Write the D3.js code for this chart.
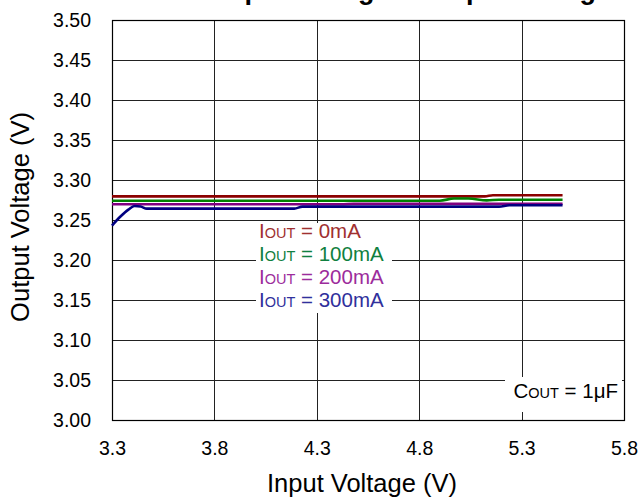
<!DOCTYPE html>
<html>
<head>
<meta charset="utf-8">
<script src="https://cdn.jsdelivr.net/npm/d3@7"></script>
<style>
  html, body { margin: 0; padding: 0; background: #fff; }
  svg { display: block; font-family: "Liberation Sans", Arial, sans-serif; }
  .tick-label { font-size: 19.5px; fill: #000; }
  .axis-title { font-size: 25.5px; fill: #000; }
  .grid line { stroke: #222; stroke-width: 1; shape-rendering: crispEdges; }
</style>
</head>
<body>
<svg id="chart" width="640" height="498"></svg>
<script>
(function () {
    "use strict";

    // Tick values
    const X_TICKS = [3.3, 3.8, 4.3, 4.8, 5.3, 5.8];
    const Y_TICKS = [3.00, 3.05, 3.10, 3.15, 3.20, 3.25, 3.30, 3.35, 3.40, 3.45, 3.50];

    // Series: input voltage (V) vs output voltage (V), one per load current
    const SERIES_NAMES = ["0mA", "100mA", "200mA", "300mA"];

    const vin0 = [3.3, 5.12, 5.16, 5.5];
    const vout0 = [3.2795, 3.2795, 3.281, 3.281];

    const vin100 = [3.3, 4.9, 4.97, 5.04, 5.13, 5.19, 5.5];
    const vout100 = [3.2741, 3.2741, 3.2768, 3.2768, 3.2745, 3.2754, 3.2754];

    const vin200 = [3.3, 4.42, 4.48, 5.5];
    const vout200 = [3.2696, 3.2696, 3.2704, 3.2704];

    const vin300 = [3.3, 3.34, 3.38, 3.41, 3.44, 3.47, 4.19, 4.23, 5.19, 5.24, 5.5];
    const vout300 = [3.243, 3.254, 3.263, 3.2675, 3.2668, 3.2642, 3.2642, 3.2667, 3.2667, 3.2684, 3.2684];

    const LINE_COLORS = ["#8b0000", "#008000", "#800080", "#000080"];
    const TEXT_COLORS = ["#a03030", "#108040", "#9c2c9c", "#30309c"];

    const series = [
        { name: SERIES_NAMES[0], vin: vin0, vout: vout0 },
        { name: SERIES_NAMES[1], vin: vin100, vout: vout100 },
        { name: SERIES_NAMES[2], vin: vin200, vout: vout200 },
        { name: SERIES_NAMES[3], vin: vin300, vout: vout300 }
    ];

    const W = 640;
    const margin = { top: 20, right: 16, bottom: 78, left: 112 };
    const innerW = W - margin.left - margin.right;   // 512
    const innerH = 498 - margin.top - margin.bottom; // 400

    const svg = d3.select("#chart");

    // Title, clipped at the top edge as in the source
    svg.append("text")
        .attr("x", 198)
        .attr("y", -1.5)
        .style("font-size", "27px")
        .style("font-weight", "bold")
        .text("Output Voltage vs. Input Voltage");

    const g = svg.append("g")
        .attr("transform", `translate(${margin.left},${margin.top})`);

    const x = d3.scaleLinear().domain([3.3, 5.8]).range([0, innerW]);
    const y = d3.scaleLinear().domain([3.0, 3.5]).range([innerH, 0]);

    // Grid
    g.append("g")
        .attr("class", "grid")
        .selectAll("line")
        .data(X_TICKS)
        .enter()
        .append("line")
        .attr("x1", (d) => Math.round(x(d)) + 0.5).attr("x2", (d) => Math.round(x(d)) + 0.5)
        .attr("y1", 0).attr("y2", innerH);

    g.append("g")
        .attr("class", "grid")
        .selectAll("line")
        .data(Y_TICKS)
        .enter()
        .append("line")
        .attr("x1", 0).attr("x2", innerW)
        .attr("y1", (d) => Math.round(y(d)) + 0.5).attr("y2", (d) => Math.round(y(d)) + 0.5);

    // Plot frame
    g.append("rect")
        .attr("x", 0.5).attr("y", 0.5)
        .attr("width", innerW).attr("height", innerH)
        .attr("fill", "none")
        .attr("stroke", "#000")
        .attr("stroke-width", 1.2);

    // Lines
    const line = d3.line()
        .x((d) => x(d[0]))
        .y((d) => y(d[1]))
        .curve(d3.curveMonotoneX);

    g.selectAll(".series")
        .data(series)
        .enter()
        .append("path")
        .attr("class", "series")
        .attr("fill", "none")
        .attr("stroke", (d, i) => LINE_COLORS[i])
        .attr("stroke-width", 2.6)
        .attr("d", (d) => line(d.vin.map((v, i) => [v, d.vout[i]])));

    // Axes (labels only)
    const yAxis = g.append("g")
        .call(d3.axisLeft(y).tickValues(Y_TICKS).tickSize(0).tickPadding(21).tickFormat(d3.format(".2f")));
    const xAxis = g.append("g")
        .attr("transform", `translate(0,${innerH})`)
        .call(d3.axisBottom(x).tickValues(X_TICKS).tickSize(0).tickPadding(21).tickFormat(d3.format(".1f")));
    [yAxis, xAxis].forEach(function (ax) {
        ax.select(".domain").remove();
        ax.selectAll("text")
            .attr("class", "tick-label")
            .attr("font-family", null)
            .attr("font-size", null);
    });

    // Axis titles
    svg.append("text")
        .attr("class", "axis-title")
        .attr("text-anchor", "middle")
        .attr("x", margin.left + innerW / 2 - 6)
        .attr("y", 492)
        .text("Input Voltage (V)");

    svg.append("text")
        .attr("class", "axis-title")
        .attr("text-anchor", "middle")
        .attr("transform", `translate(29,${margin.top + innerH / 2 - 3}) rotate(-90)`)
        .text("Output Voltage (V)");

    // Legend with white backing
    const legend = svg.append("g").attr("transform", "translate(259,238)");
    legend.append("rect")
        .attr("x", -3).attr("y", -15)
        .attr("width", 136).attr("height", 90)
        .attr("fill", "#fff");

    series.forEach(function (s, i) {
        const t = legend.append("text")
            .attr("x", 0)
            .attr("y", i * 23)
            .attr("fill", TEXT_COLORS[i])
            .style("font-size", "20.5px");
        t.append("tspan").text("I");
        t.append("tspan").style("font-size", "14.5px").text("OUT");
        t.append("tspan").text(" = " + s.name);
    });

    // Output capacitor note
    const note = svg.append("g").attr("transform", "translate(618,398)");
    note.append("rect")
        .attr("x", -113).attr("y", -21)
        .attr("width", 117).attr("height", 35)
        .attr("fill", "#fff");
    const nt = note.append("text")
        .attr("text-anchor", "end")
        .attr("fill", "#000")
        .style("font-size", "20.5px");
    nt.append("tspan").text("C");
    nt.append("tspan").style("font-size", "14.5px").text("OUT");
    nt.append("tspan").text(" = 1\u03bcF");
})();
</script>
</body>
</html>
